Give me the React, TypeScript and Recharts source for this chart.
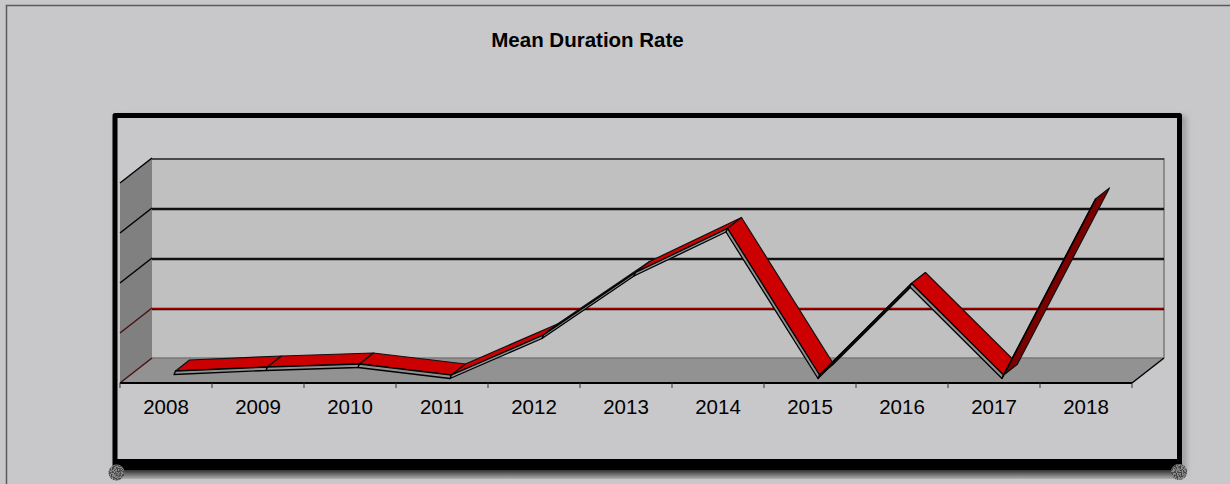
import { ComposedChart, Line, XAxis, YAxis } from "recharts";

const years = ["2008", "2009", "2010", "2011", "2012", "2013", "2014", "2015", "2016", "2017", "2018"];
const rates = [0.1, 0.18, 0.24, 0.02, 0.82, 2.07, 2.95, 0.02, 1.85, 0.02, 3.54];
const gridValues = [0, 1, 2, 3, 4];

const data = years.map((year, i) => ({ year, rate: rates[i] }));

const W = 1230;
const H = 484;
const LEFT = 120;
const RIGHT = 1132;
const TOP = 183;
const BOTTOM = 383;
const DEPTH_X = 32;
const DEPTH_Y = -25;
const BAND = (RIGHT - LEFT) / years.length;
const FONT = '"Liberation Sans", Arial, sans-serif';

const yAt = (v: number) => BOTTOM - ((BOTTOM - TOP) * v) / 4;

function Backdrop() {
  return (
    <g>
      <defs>
        <filter id="blur" x="-5%" y="-5%" width="110%" height="110%">
          <feGaussianBlur stdDeviation="3" />
        </filter>
        <linearGradient id="fade" x1="0" y1="0" x2="0" y2="1">
          <stop offset="0" stopColor="#222" />
          <stop offset="1" stopColor="#b0b0b2" />
        </linearGradient>
        <filter id="grain" x="-10%" y="-10%" width="120%" height="120%" colorInterpolationFilters="sRGB">
          <feTurbulence type="fractalNoise" baseFrequency="0.8" numOctaves="2" seed="4" />
          <feColorMatrix values="0 0 0 0 0.25  0 0 0 0 0.25  0 0 0 0 0.25  6 0 0 0 -2.6" />
          <feComposite in2="SourceGraphic" operator="in" result="specks" />
          <feMerge>
            <feMergeNode in="SourceGraphic" />
            <feMergeNode in="specks" />
          </feMerge>
        </filter>
      </defs>

      <rect width={W} height={H} fill="#c8c8ca" />
      <path d={`M6.5 ${H} V5.5 H${W}`} fill="none" stroke="#5a5a5a" strokeWidth={1.5} />
      <text x={587.5} y={47} textAnchor="middle" fontFamily={FONT} fontSize={20.5} fontWeight="bold" fill="#000">
        Mean Duration Rate
      </text>

      {/* frame with its soft shadow */}
      <rect x={119} y={119} width={1064} height={352} fill="none" stroke="#8a8a8c" strokeWidth={5} filter="url(#blur)" />
      <rect x={120} y={469} width={1060} height={10} fill="url(#fade)" />
      <rect x={115} y={115.5} width={1064.5} height={350} fill="#c8c8ca" stroke="#000" strokeWidth={5} strokeLinejoin="round" />
      <rect x={113} y={459} width={1069} height={11} fill="#000" />
      <circle cx={116.5} cy={472.5} r={8} fill="#8c8c8c" filter="url(#grain)" />
      <circle cx={1179} cy={472} r={8} fill="#8c8c8c" filter="url(#grain)" />

      {/* walls */}
      <rect x={LEFT + DEPTH_X} y={TOP + DEPTH_Y} width={RIGHT - LEFT} height={BOTTOM - TOP} fill="#c0c0c0" />
      <path
        d={`M${LEFT} ${TOP} L${LEFT + DEPTH_X} ${TOP + DEPTH_Y} V${BOTTOM + DEPTH_Y} L${LEFT} ${BOTTOM} Z`}
        fill="#808080"
      />
      <path
        d={`M${LEFT} ${BOTTOM} L${LEFT + DEPTH_X} ${BOTTOM + DEPTH_Y} H${RIGHT + DEPTH_X} L${RIGHT} ${BOTTOM} Z`}
        fill="#929292"
      />
      <line x1={LEFT + DEPTH_X} x2={RIGHT + DEPTH_X} y1={BOTTOM + DEPTH_Y} y2={BOTTOM + DEPTH_Y} stroke="#787878" strokeWidth={1.5} />
      <line x1={RIGHT + DEPTH_X} x2={RIGHT + DEPTH_X} y1={TOP + DEPTH_Y} y2={BOTTOM + DEPTH_Y} stroke="#8c8c8c" strokeWidth={2} />

      {gridValues.map((v) => {
        const red = v === 1;
        const y = yAt(v);
        return (
          <g key={v}>
            {v > 0 && (
              <line x1={LEFT + DEPTH_X} x2={RIGHT + DEPTH_X} y1={y + DEPTH_Y + 1} y2={y + DEPTH_Y + 1} stroke={v === 4 ? "#222" : red ? "#3a0000" : "#111"} strokeWidth={v === 4 ? 1.5 : 2.5} />
            )}
            {red && (
              <line x1={LEFT + DEPTH_X} x2={RIGHT + DEPTH_X} y1={y + DEPTH_Y + 0.5} y2={y + DEPTH_Y + 0.5} stroke="#a00000" strokeWidth={1} />
            )}
            <line x1={LEFT} x2={LEFT + DEPTH_X} y1={y} y2={y + DEPTH_Y} stroke={v < 2 ? "#4a1010" : "#000"} strokeWidth={1.5} />
          </g>
        );
      })}

      <line x1={LEFT} x2={RIGHT} y1={BOTTOM} y2={BOTTOM} stroke="#000" strokeWidth={2} />
      <line x1={RIGHT} x2={RIGHT + DEPTH_X} y1={BOTTOM} y2={BOTTOM + DEPTH_Y} stroke="#000" strokeWidth={1.5} />
      {years.concat("").map((_, i) => (
        <line key={i} x1={LEFT + i * BAND} x2={LEFT + i * BAND} y1={BOTTOM} y2={BOTTOM + 5} stroke="#333" />
      ))}
    </g>
  );
}

// one ribbon piece from this point to the next one
function RibbonDot(props: any) {
  const { cx, cy, index, points } = props;
  const next = points?.[index + 1];
  if (!next) return <g key={index} />;
  const x0 = cx + 9.5;
  const y0 = cy - 7;
  const x1 = next.x + 9.5;
  const y1 = next.y - 7;
  const dx = 14;
  const dy = -11;
  const under = (y1 - y0) * dx < dy * (x1 - x0);
  return (
    <g key={index}>
      <polygon
        points={`${x0},${y0} ${x1},${y1} ${x1 + dx},${y1 + dy} ${x0 + dx},${y0 + dy}`}
        fill={under ? "#7a0000" : "#cc0000"}
        stroke="#111"
        strokeWidth={1.2}
        strokeLinejoin="round"
      />
      <polygon
        points={`${x0},${y0} ${x1},${y1} ${x1 - 1.5},${y1 + 3.5} ${x0 - 1.5},${y0 + 3.5}`}
        fill="#8f8f8f"
        stroke="#000"
        strokeWidth={1.3}
        strokeLinejoin="round"
      />
    </g>
  );
}

export default function App() {
  return (
    <div style={{ position: "absolute", left: 0, top: 0, width: W, height: H }}>
      <ComposedChart
        width={W}
        height={H}
        data={data}
        margin={{ left: LEFT, right: W - RIGHT, top: TOP, bottom: 0 }}
      >
        <Backdrop />
        <XAxis
          dataKey="year"
          axisLine={false}
          tickLine={false}
          interval={0}
          height={H - BOTTOM}
          padding={{ left: BAND / 2, right: BAND / 2 }}
          tickMargin={10}
          tick={{ fontSize: 20.5, fontFamily: FONT, fill: "#000" }}
        />
        <YAxis hide domain={[0, 4]} width={0} />
        <Line
          dataKey="rate"
          stroke="none"
          dot={RibbonDot}
          activeDot={false}
          legendType="none"
          isAnimationActive={false}
        />
      </ComposedChart>
    </div>
  );
}
